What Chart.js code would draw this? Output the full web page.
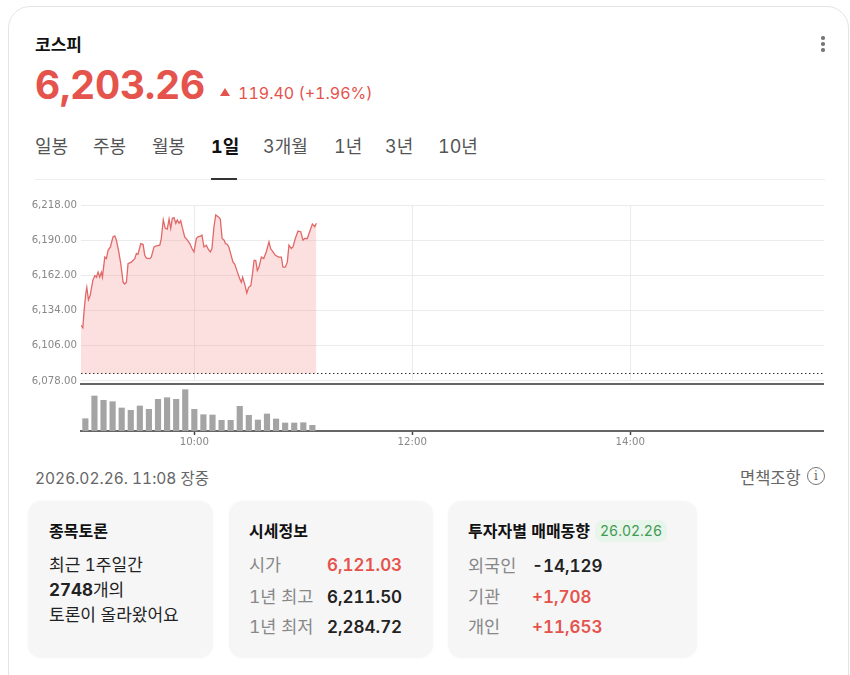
<!DOCTYPE html>
<html lang="ko">
<head>
<meta charset="utf-8">
<title>코스피</title>
<script src="https://cdn.jsdelivr.net/npm/chart.js@4.4.1/dist/chart.umd.min.js"></script>
<style>
    body {
        margin: 0;
        width: 850px;
        height: 675px;
        background: #fff;
        font-family: Inter, "Noto Sans CJK KR", sans-serif;
        font-variant-numeric: tabular-nums;
        color: #222;
        position: relative;
        overflow: hidden;
    }
    .abs { position: absolute; white-space: nowrap; }
    .frame {
        position: absolute; left: 8px; top: 6px; width: 841px; height: 720px;
        border: 1px solid #e4e4e4; border-radius: 22px; box-sizing: border-box;
    }
    .title { left: 35px; top: 31px; font-size: 17px; font-weight: 700; color: #111; }
    .kebab { left: 821px; top: 36px; width: 4px; }
    .kebab span { display: block; width: 3.5px; height: 3.5px; border-radius: 50%; background: #777; margin-bottom: 2.5px; }
    .price { left: 35px; top: 61px; font-size: 39px; font-weight: 700; color: #e5534d; letter-spacing: -0.3px; }
    .tri { left: 220px; top: 88px; width: 0; height: 0; border-left: 5px solid transparent; border-right: 5px solid transparent; border-bottom: 8px solid #e5534d; }
    .change { left: 238px; top: 83px; font-size: 16px; color: #e5534d; }
    .tab { top: 132px; font-size: 18px; color: #555; }
    .tab.on { color: #111; font-weight: 700; }
    .tabline { left: 35px; top: 179px; width: 790px; height: 1px; background: #eee; }
    .tabmark { left: 211px; top: 178px; width: 26px; height: 2px; background: #333; }
    canvas { position: absolute; }
    .stamp { left: 35px; top: 466px; font-size: 15.5px; color: #666; }
    .notice { left: 740px; top: 465px; font-size: 16.5px; color: #666; }
    .info { left: 807px; top: 467px; width: 16px; height: 16px; border: 1.3px solid #777; border-radius: 50%; font-size: 12px; line-height: 16px; text-align: center; color: #666; font-family: "DejaVu Serif", serif; }
    .box { position: absolute; top: 501px; height: 157px; background: #f6f6f7; border-radius: 14px; box-shadow: 0 0 3px rgba(0,0,0,0.04); }
    .box h3 { position: absolute; margin: 0; top: 20px; line-height: 20px; font-size: 16px; font-weight: 700; color: #111; white-space: nowrap; }
    .row { position: absolute; font-size: 17px; line-height: 20px; white-space: nowrap; }
    .lbl { font-size: 17.5px; color: #888; }
    .val { font-size: 17px; font-weight: 600; color: #222; }
    .red { color: #e5534d; }
    .badge { position: absolute; left: 147px; top: 19px; height: 22px; line-height: 22px; padding: 0 5px; font-size: 14px; color: #3f9a52; background: #e7f5ea; border-radius: 8px; }
</style>
</head>
<body>
<div class="frame"></div>
<div class="abs title">코스피</div>
<div class="abs kebab"><span></span><span></span><span></span></div>
<div class="abs price">6,203.26</div>
<div class="abs tri"></div>
<div class="abs change">119.40 (+1.96%)</div>

<div class="abs tab" style="left:35px">일봉</div>
<div class="abs tab" style="left:93px">주봉</div>
<div class="abs tab" style="left:152px">월봉</div>
<div class="abs tab on" style="left:211px">1일</div>
<div class="abs tab" style="left:263px">3개월</div>
<div class="abs tab" style="left:334px">1년</div>
<div class="abs tab" style="left:385px">3년</div>
<div class="abs tab" style="left:438px">10년</div>
<div class="abs tabline"></div>
<div class="abs tabmark"></div>

<canvas id="priceChart" width="799" height="196" style="left:25px; top:195px"></canvas>
<canvas id="volumeChart" width="799" height="80" style="left:25px; top:375px"></canvas>

<div class="abs stamp">2026.02.26. 11:08 장중</div>
<div class="abs notice">면책조항</div>
<div class="abs info">i</div>

<div class="box" style="left:28px; width:185px">
    <h3 style="left:21px">종목토론</h3>
    <div class="row" style="left:21px; top:54px">최근 1주일간</div>
    <div class="row" style="left:21px; top:79px"><b>2748</b>개의</div>
    <div class="row" style="left:21px; top:104px">토론이 올라왔어요</div>
</div>
<div class="box" style="left:229px; width:204px">
    <h3 style="left:20px">시세정보</h3>
    <div class="row lbl" style="left:20px; top:54px">시가</div>
    <div class="row val red" style="left:98px; top:54px">6,121.03</div>
    <div class="row lbl" style="left:20px; top:86px">1년 최고</div>
    <div class="row val" style="left:98px; top:86px">6,211.50</div>
    <div class="row lbl" style="left:20px; top:116px">1년 최저</div>
    <div class="row val" style="left:98px; top:116px">2,284.72</div>
</div>
<div class="box" style="left:448px; width:249px">
    <h3 style="left:20px">투자자별 매매동향</h3>
    <div class="badge">26.02.26</div>
    <div class="row lbl" style="left:20px; top:55px">외국인</div>
    <div class="row val" style="left:84px; top:55px">-14,129</div>
    <div class="row lbl" style="left:20px; top:86px">기관</div>
    <div class="row val red" style="left:84px; top:86px">+1,708</div>
    <div class="row lbl" style="left:20px; top:116px">개인</div>
    <div class="row val red" style="left:84px; top:116px">+11,653</div>
</div>

<script>
// Chart data (minutes after 09:00)
const prevClose = 6083.86;
const xMin = -2.4;
const xMax = 406.7;
const timeTicks = [60, 180, 300];
const priceTicks = [6078, 6106, 6134, 6162, 6190, 6218];

const priceMinutes = [
    -2.4, -1.4, -0.7, 0.2, 0.8, 1.7, 2.6, 4.1, 5.2, 6.1, 7.0, 7.9, 8.8, 9.4, 10.7, 11.6,
    12.5, 13.8, 15.2, 16.2, 17.1, 18.4, 19.5, 20.8, 21.7, 22.6, 23.5, 25.3, 27.2, 28.1, 29.0,
    30.5, 31.8, 32.7, 33.6, 35.5, 36.3, 37.8, 39.1, 41.0, 41.8, 42.9, 44.0, 45.1, 46.1, 47.0,
    47.9, 48.8, 49.8, 50.6, 51.6, 52.5, 53.4, 54.7, 56.2, 57.5, 58.7, 59.8, 61.1, 62.0, 63.5,
    64.2, 65.3, 66.6, 67.5, 68.8, 69.7, 70.8, 71.8, 73.1, 74.3, 75.3, 76.4, 77.1, 78.2, 79.0,
    80.0, 81.3, 82.2, 83.7, 85.0, 85.9, 86.6, 87.7, 88.9, 89.9, 91.1, 91.9, 92.9, 93.8, 94.7,
    95.6, 96.9, 98.2, 99.6, 101.1, 102.0, 103.3, 104.6, 106.5, 107.9, 108.8, 110.1, 111.2,
    112.1, 113.4, 114.3, 115.6, 117.1, 118.6, 119.8, 120.8, 122.2, 123.5, 125.0, 126.3, 127.2
];
const prices = [
    6122.3, 6120.3, 6133.8, 6147.2, 6152.5, 6142.6, 6145.8, 6157.9, 6161.9, 6160.6, 6164.6, 6160.6,
    6164.6, 6160.6, 6176.6, 6175.4, 6182.0, 6184.7, 6192.7, 6193.5, 6190.1, 6180.7, 6171.3, 6156.5,
    6155.2, 6156.5, 6171.3, 6172.6, 6175.4, 6179.4, 6179.0, 6187.4, 6186.6, 6178.0, 6175.8, 6175.4,
    6176.6, 6184.7, 6185.5, 6186.1, 6191.4, 6206.2, 6199.5, 6198.9, 6207.0, 6199.5, 6207.5, 6208.0,
    6203.5, 6206.2, 6203.5, 6205.6, 6200.0, 6192.7, 6190.1, 6187.4, 6183.4, 6180.7, 6191.4, 6192.7,
    6193.3, 6194.1, 6184.7, 6186.1, 6183.4, 6180.7, 6183.4, 6200.8, 6210.2, 6208.8, 6207.0, 6191.4,
    6190.1, 6187.4, 6186.6, 6184.7, 6179.4, 6172.6, 6171.3, 6164.6, 6159.3, 6156.5, 6160.6, 6155.2,
    6148.0, 6152.5, 6153.9, 6161.9, 6174.0, 6174.0, 6165.9, 6168.6, 6176.6, 6175.4, 6180.7, 6188.7,
    6183.4, 6180.7, 6178.0, 6176.6, 6176.6, 6168.6, 6168.6, 6172.6, 6186.1, 6183.4, 6184.7, 6191.4,
    6197.3, 6196.8, 6190.1, 6191.4, 6191.4, 6196.8, 6203.0, 6200.8, 6203.5
];

// 5-minute volume bars
const volumeMinutes = [0, 5, 10, 15, 20, 25, 30, 35, 40, 45, 50, 55, 60, 65, 70, 75, 80, 85, 90, 95, 100, 105, 110, 115, 120, 125];
const volumes = [123, 350, 307, 293, 230, 207, 250, 217, 317, 333, 317, 413, 217, 163, 160, 107, 107, 247, 157, 110, 170, 120, 80, 80, 83, 57];
const volumeMax = 470;

const axisFont = { family: 'DejaVu Sans', size: 10.2 };

function fmtTime(m) {
    const h = 9 + Math.floor(m / 60);
    const mm = Math.round(m % 60);
    return String(h).padStart(2, '0') + ':' + String(mm).padStart(2, '0');
}

const priceChart = new Chart(document.getElementById('priceChart'), {
    type: 'line',
    data: {
        datasets: [
            {
                data: priceMinutes.map((m, i) => ({ x: m, y: prices[i] })),
                borderColor: '#e26868',
                borderWidth: 1.3,
                backgroundColor: 'rgba(244, 150, 150, 0.3)',
                fill: { value: prevClose },
                pointRadius: 0,
                tension: 0,
                order: 2
            },
            {
                // previous close
                data: [{ x: xMin, y: prevClose }, { x: xMax, y: prevClose }],
                borderColor: '#333',
                borderWidth: 1,
                borderDash: [1.5, 2.5],
                pointRadius: 0,
                fill: false,
                order: 1
            }
        ]
    },
    options: {
        responsive: false,
        animation: false,
        layout: { padding: { top: 10, bottom: 0, left: 0, right: 0 } },
        plugins: { legend: { display: false }, tooltip: { enabled: false } },
        scales: {
            x: {
                type: 'linear',
                min: xMin,
                max: xMax,
                afterBuildTicks: s => { s.ticks = timeTicks.map(v => ({ value: v })); },
                ticks: { display: false },
                grid: { color: '#ebebeb', drawTicks: false },
                border: { display: false }
            },
            y: {
                min: 6078,
                max: 6218,
                afterBuildTicks: s => { s.ticks = priceTicks.map(v => ({ value: v })); },
                afterFit: s => { s.width = 56; },
                ticks: {
                    color: '#888',
                    font: axisFont,
                    padding: 4,
                    callback: v => v.toLocaleString('en-US', { minimumFractionDigits: 2, maximumFractionDigits: 2 })
                },
                grid: { color: '#ebebeb', drawTicks: false },
                border: { display: false }
            }
        }
    }
});

const volumeChart = new Chart(document.getElementById('volumeChart'), {
    type: 'bar',
    data: {
        datasets: [{
            data: volumeMinutes.map((m, i) => ({ x: m, y: volumes[i] })),
            backgroundColor: '#a4a4a4',
            barThickness: 5.5
        }]
    },
    options: {
        responsive: false,
        animation: false,
        layout: { padding: { top: 9, left: 56, right: 0, bottom: 0 } },
        plugins: { legend: { display: false }, tooltip: { enabled: false } },
        scales: {
            x: {
                type: 'linear',
                min: xMin,
                max: xMax,
                offset: false,
                afterBuildTicks: s => { s.ticks = timeTicks.map(v => ({ value: v })); },
                afterFit: s => { s.height = 24; },
                ticks: { color: '#888', font: axisFont, padding: 1, maxRotation: 0, autoSkip: false, callback: v => fmtTime(v) },
                grid: { offset: false, drawOnChartArea: false, drawTicks: true, tickLength: 4, tickColor: '#444', tickWidth: 1.5 },
                border: { display: true, color: '#666', width: 2 }
            },
            xTop: {
                type: 'linear',
                position: 'top',
                min: xMin,
                max: xMax,
                ticks: { display: false },
                grid: { display: false, drawTicks: false },
                border: { display: true, color: '#666', width: 2 }
            },
            y: { display: false, min: 0, max: volumeMax }
        }
    }
});
</script>
</body>
</html>
